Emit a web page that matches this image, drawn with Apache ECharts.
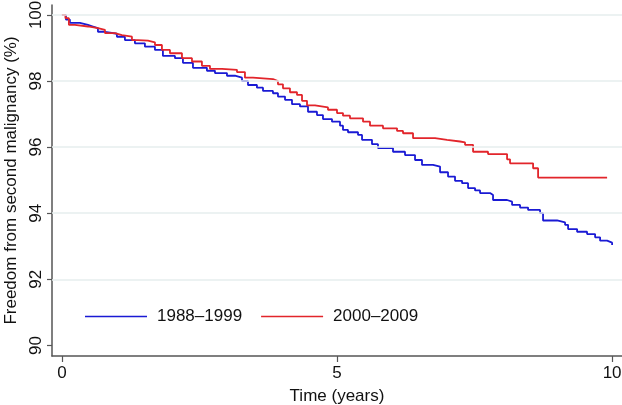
<!DOCTYPE html>
<html><head><meta charset="utf-8">
<script src="https://cdn.jsdelivr.net/npm/echarts@6/dist/echarts.min.js"></script>
<style>html,body{margin:0;padding:0;background:#fff}#c{width:622px;height:405px}</style>
</head><body><div id="c"></div>
<script>
const seriesNames = ['1988\u20131999', '2000\u20132009'];
const xTicks = [0, 5, 10];
const yTicks = [90, 92, 94, 96, 98, 100];
const yGridTicks = [92, 94, 96, 98, 100];

const blueT = [0, 0.073, 0.145, 0.327, 0.473, 0.564, 0.655, 0.782, 1.0, 1.145, 1.327, 1.509, 1.691, 1.836, 2.055, 2.2, 2.382, 2.636, 2.782, 3.0, 3.145, 3.273, 3.382, 3.545, 3.655, 3.836, 3.927, 4.055, 4.182, 4.327, 4.473, 4.636, 4.745, 4.909, 5.055, 5.109, 5.2, 5.382, 5.455, 5.636, 5.745, 6.018, 6.236, 6.418, 6.545, 6.745, 6.873, 7.018, 7.145, 7.273, 7.382, 7.509, 7.6, 7.782, 7.836, 8.091, 8.182, 8.327, 8.473, 8.691, 8.745, 9.0, 9.145, 9.2, 9.364, 9.545, 9.691, 9.782, 9.909, 10.0];
const blueV = [100, 99.86, 99.76, 99.70, 99.65, 99.60, 99.49, 99.43, 99.34, 99.24, 99.14, 99.04, 98.94, 98.76, 98.69, 98.55, 98.40, 98.31, 98.24, 98.16, 98.10, 98.00, 97.88, 97.80, 97.70, 97.63, 97.53, 97.43, 97.30, 97.23, 97.07, 96.97, 96.85, 96.77, 96.65, 96.52, 96.45, 96.37, 96.22, 96.09, 95.97, 95.86, 95.76, 95.61, 95.46, 95.41, 95.24, 95.11, 94.98, 94.91, 94.76, 94.69, 94.61, 94.55, 94.40, 94.35, 94.25, 94.17, 94.10, 94.00, 93.78, 93.72, 93.65, 93.52, 93.44, 93.37, 93.27, 93.17, 93.11, 93.04];

const redT = [0, 0.064, 0.127, 0.236, 0.473, 0.655, 0.782, 0.964, 1.091, 1.273, 1.382, 1.564, 1.691, 1.818, 1.964, 2.182, 2.364, 2.545, 2.691, 2.909, 3.182, 3.327, 3.473, 3.836, 3.927, 4.018, 4.145, 4.273, 4.364, 4.455, 4.6, 4.836, 5.0, 5.109, 5.236, 5.473, 5.6, 5.836, 6.091, 6.2, 6.382, 6.782, 7.0, 7.236, 7.327, 7.473, 7.745, 8.091, 8.145, 8.564, 8.655, 9.909];
const redV = [100, 99.90, 99.70, 99.65, 99.60, 99.55, 99.45, 99.39, 99.34, 99.24, 99.22, 99.17, 99.09, 98.94, 98.84, 98.69, 98.59, 98.46, 98.37, 98.34, 98.27, 98.10, 98.06, 98.00, 97.90, 97.78, 97.66, 97.58, 97.40, 97.26, 97.20, 97.13, 97.03, 96.95, 96.87, 96.77, 96.65, 96.57, 96.49, 96.42, 96.27, 96.22, 96.17, 96.14, 96.07, 95.86, 95.79, 95.63, 95.51, 95.36, 95.08, 95.08];

const FONT = '"Liberation Sans", Arial, Helvetica, sans-serif';
const zip = (a, b) => a.map((t, i) => [t, b[i]]);

const chart = echarts.init(document.getElementById('c'), null, {renderer: 'canvas'});
chart.setOption({
  animation: false,
  backgroundColor: '#fff',
  grid: {left: 52, right: 0, top: 5, bottom: 49, containLabel: false, outerBoundsMode: 'none'},
  legend: {
    left: 85, top: 308, padding: 0,
    itemWidth: 62, itemHeight: 14, itemGap: 19,
    textStyle: {fontFamily: FONT, fontSize: 17, color: '#111', padding: [0, 0, 0, 5]},
    data: seriesNames.map(n => ({name: n, icon: 'path://M0,7 L62,7 L62,8.5 L0,8.5 Z'}))
  },
  xAxis: {
    type: 'value', min: -0.18, max: 10.18,
    name: 'Time (years)', nameLocation: 'middle', nameGap: 32,
    nameTextStyle: {fontFamily: FONT, fontSize: 17, color: '#111'},
    axisLine: {show: true, onZero: false, lineStyle: {color: '#555', width: 1.5}},
    axisTick: {show: true, length: 6, lineStyle: {color: '#555', width: 1.2}, customValues: xTicks},
    axisLabel: {fontFamily: FONT, fontSize: 17, color: '#111', margin: 9, customValues: xTicks},
    splitLine: {show: false}
  },
  yAxis: {
    type: 'value', min: 89.68, max: 100.3,
    name: 'Freedom from second malignancy (%)', nameLocation: 'middle', nameGap: 30,
    nameTextStyle: {fontFamily: FONT, fontSize: 17, color: '#111'},
    axisLine: {show: true, onZero: false, lineStyle: {color: '#555', width: 1.5}},
    axisTick: {show: true, length: 5, lineStyle: {color: '#555', width: 1.2}, customValues: yTicks},
    axisLabel: {fontFamily: FONT, fontSize: 17, color: '#111', rotate: 90, margin: 7, customValues: yTicks},
    splitLine: {show: false}
  },
  series: [
    {
      name: seriesNames[0], type: 'line', step: 'end', showSymbol: false, symbol: 'none',
      data: zip(blueT, blueV),
      lineStyle: {color: '#1a1ad4', width: 1.8}, itemStyle: {color: '#1a1ad4'},
      markLine: {
        silent: true, symbol: 'none', label: {show: false},
        lineStyle: {color: '#e6eeee', width: 1.5, type: 'solid'},
        data: yGridTicks.map(v => ({yAxis: v}))
      },
      z: 3
    },
    {
      name: seriesNames[1], type: 'line', step: 'end', showSymbol: false, symbol: 'none',
      data: zip(redT, redV),
      lineStyle: {color: '#e2252b', width: 1.8}, itemStyle: {color: '#e2252b'},
      z: 4
    }
  ]
});
</script></body></html>
